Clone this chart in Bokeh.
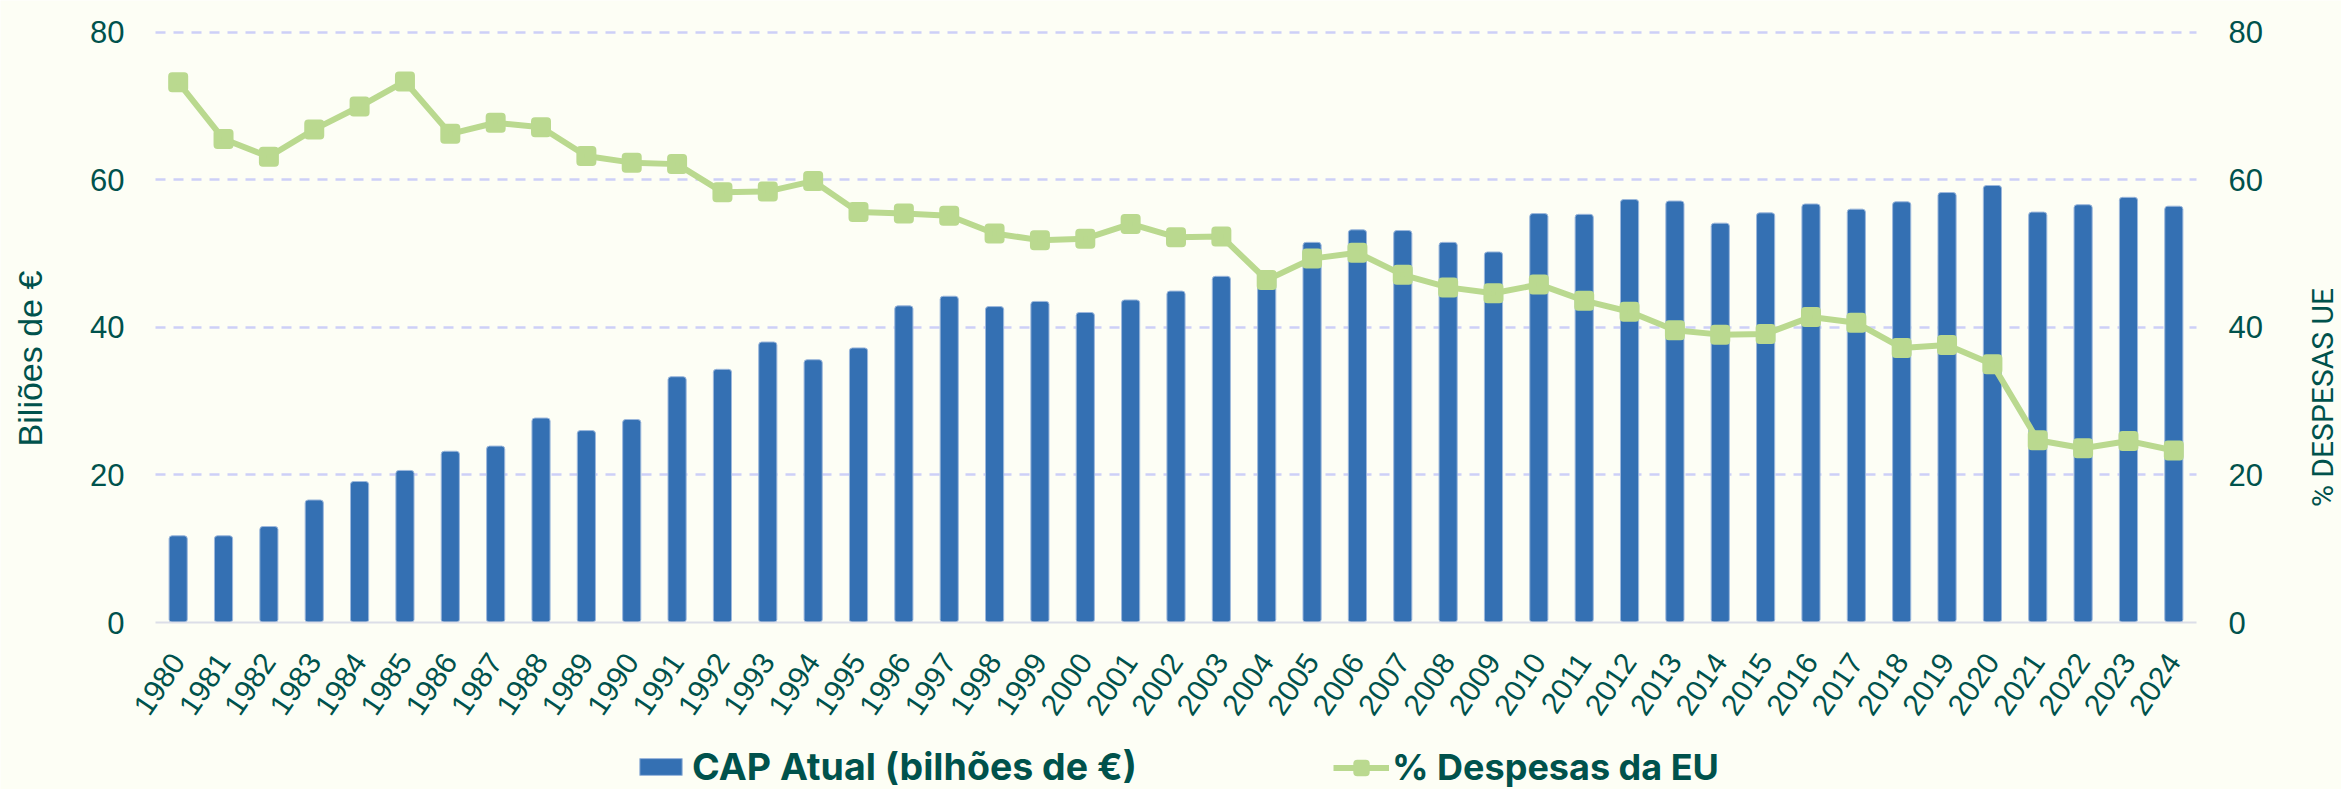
import math
from bokeh.plotting import figure
from bokeh.models import (Range1d, LinearAxis, FixedTicker, Legend, LegendItem,
                          Label, VBar, Grid)
from bokeh.embed import file_html
from bokeh.resources import INLINE

# ---------------- data ----------------
years = list(range(1980, 2025))

cap_values = [11.75, 11.75, 13.0, 16.6, 19.1, 20.6, 23.2, 23.9, 27.7, 26.0, 27.5,
              33.3, 34.3, 38.0, 35.6, 37.2, 42.9, 44.2, 42.8, 43.5, 42.0, 43.7,
              44.9, 46.9, 47.0, 51.5, 53.2, 53.1, 51.5, 50.2, 55.4, 55.3, 57.3,
              57.1, 54.1, 55.5, 56.7, 56.0, 57.0, 58.25, 59.2, 55.6, 56.6, 57.6, 56.4]

pct_values = [73.2, 65.5, 63.1, 66.8, 69.9, 73.3, 66.2, 67.7, 67.1, 63.2, 62.3,
              62.1, 58.3, 58.4, 59.8, 55.6, 55.4, 55.1, 52.7, 51.8, 52.0, 54.0,
              52.2, 52.3, 46.4, 49.3, 50.1, 47.1, 45.4, 44.6, 45.8, 43.6, 42.1,
              39.6, 39.0, 39.1, 41.4, 40.6, 37.2, 37.6, 35.0, 24.7, 23.6, 24.6, 23.3]

y_ticks = [0, 20, 40, 60, 80]
grid_ticks = [20, 40, 60, 80]

bar_label = "CAP Atual (bilhões de €)"
line_label = "% Despesas da EU"
left_title = "Biliões de €"
right_title = "% DESPESAS UE"

# ---------------- style / layout ----------------
BG = "#FDFEF5"
TEXT = "#00524C"
BAR = "#3470B3"
BAR_EDGE = "#9DB8DC"
LINE = "#BAD98F"
GRID = "#CDD0F7"
AXIS = "#DCDEE8"
TICK_FONT = "Liberation Sans"

W, H = 2341, 789
PLOT_L, PLOT_R = 155.0, 2196.0      # pixel extent of the category area
PLOT_Y0, PLOT_Y80 = 622.0, 31.5     # pixel rows of value 0 and value 80

px_per_cat = (PLOT_R - PLOT_L) / len(years)
x_lo = years[0] - 0.5
x_hi = years[-1] + 0.5
x_start = x_lo - PLOT_L / px_per_cat
x_end = x_lo + (W - PLOT_L) / px_per_cat
px_per_unit = (PLOT_Y0 - PLOT_Y80) / 80.0
y_start = -(H - PLOT_Y0) / px_per_unit
y_end = PLOT_Y0 / px_per_unit

p = figure(x_range=Range1d(x_start, x_end), y_range=Range1d(y_start, y_end),
           width=W, height=H, output_backend="svg", toolbar_location=None,
           min_border=0, min_border_left=0, min_border_right=0,
           min_border_top=0, min_border_bottom=0,
           background_fill_color=BG, border_fill_color=BG,
           outline_line_color=None)
p.extra_y_ranges = {"pct": Range1d(y_start, y_end)}

# ---------------- grid ----------------
p.xgrid.grid_line_color = None
yg = p.ygrid[0]
if "cross_bounds" in Grid.properties():
    yg.ticker = FixedTicker(ticks=grid_ticks)
    yg.cross_bounds = (x_lo, x_hi)
    yg.grid_line_color = GRID
    yg.grid_line_dash = "10 8"
    yg.grid_line_width = 2.5
else:
    yg.grid_line_color = None
    p.segment(x0=[x_lo] * len(grid_ticks), x1=[x_hi] * len(grid_ticks),
              y0=grid_ticks, y1=grid_ticks, line_color=GRID,
              line_dash="10 8", line_width=2.5)

# ---------------- series ----------------
bar_kwargs = dict(x=years, top=cap_values, width=0.4, fill_color=BAR,
                  line_color=BAR_EDGE, line_width=1)
if "border_radius" in VBar.properties():
    bar_kwargs["border_radius"] = 3
bars = p.vbar(**bar_kwargs)

line = p.line(years, pct_values, y_range_name="pct", line_color=LINE, line_width=6)
marks = p.scatter(years, pct_values, y_range_name="pct", marker="square", size=12,
                  fill_color=LINE, line_color=LINE, line_width=8, line_join="round")

# ---------------- axes ----------------
xa = p.xaxis[0]
xa.fixed_location = 0
xa.bounds = (x_lo, x_hi)
xa.ticker = FixedTicker(ticks=years)
xa.major_label_overrides = {y: str(y) for y in years}
xa.major_label_orientation = math.radians(56)
xa.major_label_text_font = TICK_FONT
xa.major_label_text_font_size = "30px"
xa.major_label_text_color = TEXT
xa.axis_line_color = AXIS
xa.axis_line_width = 2
xa.major_tick_line_color = None
xa.minor_tick_line_color = None
xa.major_label_standoff = 28

ya = p.yaxis[0]
ya.fixed_location = x_lo
ya.bounds = (0, 80)
ya.ticker = FixedTicker(ticks=y_ticks)
ya.axis_line_color = None
ya.major_tick_line_color = None
ya.minor_tick_line_color = None
ya.major_label_text_font = TICK_FONT
ya.major_label_text_font_size = "31px"
ya.major_label_text_color = TEXT
ya.major_label_standoff = 25

ra = LinearAxis(y_range_name="pct", ticker=FixedTicker(ticks=y_ticks),
                fixed_location=x_hi, bounds=(0, 80))
ra.axis_line_color = None
ra.major_tick_line_color = None
ra.minor_tick_line_color = None
ra.major_label_text_font = TICK_FONT
ra.major_label_text_font_size = "31px"
ra.major_label_text_color = TEXT
ra.major_label_standoff = 26
p.add_layout(ra, "right")

# ---------------- axis titles ----------------
p.add_layout(Label(x=29, y=H - 358, x_units="screen", y_units="screen",
                   text=left_title, angle=math.pi / 2, text_align="center",
                   text_baseline="middle", text_font=TICK_FONT,
                   text_font_size="34px", text_color=TEXT))
p.add_layout(Label(x=2322, y=H - 397, x_units="screen", y_units="screen",
                   text=right_title, angle=math.pi / 2, text_align="center",
                   text_baseline="middle", text_font="Roboto",
                   text_font_size="30px", text_color=TEXT))

# ---------------- legends ----------------
common = dict(orientation="horizontal", padding=0, margin=0, border_line_color=None,
              background_fill_alpha=0, label_text_font="Inter",
              label_text_font_style="bold", label_text_color=TEXT, glyph_height=21)
leg1 = Legend(items=[LegendItem(label=bar_label, renderers=[bars])],
              location=(634, 0), glyph_width=53, label_standoff=5,
              label_text_font_size="37.5px", **common)
leg2 = Legend(items=[LegendItem(label=line_label, renderers=[line, marks])],
              location=(1333, 0), glyph_width=56, label_standoff=3,
              label_text_font_size="36px", **common)
p.add_layout(leg1)
p.add_layout(leg2)

open("out.html", "w").write(file_html(p, INLINE))
